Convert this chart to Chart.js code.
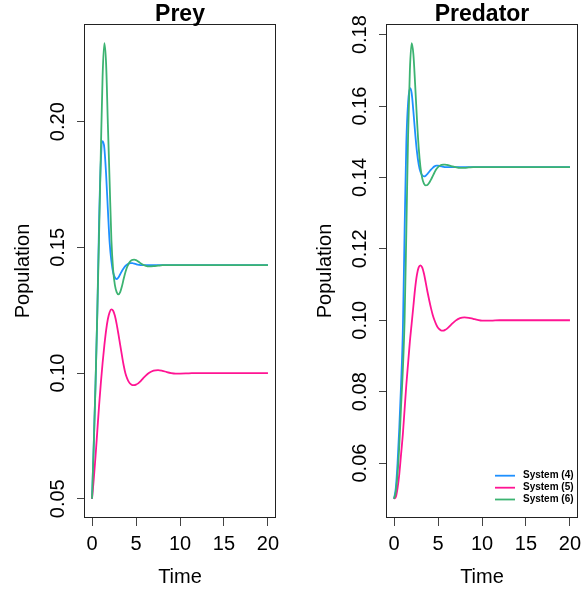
<!DOCTYPE html>
<html><head><meta charset="utf-8">
<script src="https://cdn.jsdelivr.net/npm/chart.js@4.4.1/dist/chart.umd.min.js"></script>
<style>
html,body{margin:0;padding:0;background:#fff;}
#wrap{position:relative;width:582px;height:592px;overflow:hidden;}
canvas{position:absolute;left:0;top:0;}
</style>
</head><body>
<div id="wrap"><canvas id="c1" width="582" height="592"></canvas><canvas id="c2" width="582" height="592"></canvas></div>
<script>
const times = [
  0,0.2,0.4,0.6,0.8,1,1.2,1.4,1.6,1.8,
  2,2.2,2.4,2.6,2.8,3,3.2,3.4,3.6,3.8,
  4,4.2,4.4,4.6,4.8,5,5.2,5.4,5.6,5.8,
  6,6.5,7,7.5,8,8.5,9,9.5,10,
  11,12,13,14,15,16,17,18,19,20];

const seriesNames = ["System (4)","System (5)","System (6)"];
const xTicks = [0,5,10,15,20];
const preyTicks = [0.05,0.10,0.15,0.20];
const predTicks = [0.06,0.08,0.10,0.12,0.14,0.16,0.18];

const preyS4 = [
  0.050,0.072,0.096,0.124,0.160,0.184,0.1922,0.1895,0.179,0.165,
  0.152,0.1445,0.1400,0.1380,0.1374,0.1380,0.1393,0.1406,0.1417,0.1426,
  0.1432,0.1436,0.1437,0.1437,0.1435,0.1433,0.1431,0.1430,0.1429,0.1429,
  0.1429,0.1429,0.1429,0.1429,0.1429,0.1429,0.1429,0.1429,0.1429,
  0.1429,0.1429,0.1429,0.1429,0.1429,0.1429,0.1429,0.1429,0.1429,0.1429];
const preyS5 = [
  0.050,0.058,0.067,0.077,0.087,0.096,0.104,0.111,0.117,0.1215,
  0.1242,0.1253,0.1248,0.1228,0.1195,0.1155,0.1112,0.1070,0.1030,0.0998,
  0.0978,0.0964,0.0956,0.0952,0.0952,0.0954,0.0958,0.0964,0.0971,0.0979,
  0.0986,0.1001,0.1010,0.1012,0.1009,0.1004,0.1000,0.0998,0.0998,
  0.0999,0.1000,0.1000,0.1000,0.1000,0.1000,0.1000,0.1000,0.1000,0.1000];
const preyS6 = [
  0.050,0.072,0.096,0.124,0.155,0.188,0.218,0.2312,0.223,0.199,
  0.176,0.153,0.141,0.1350,0.1322,0.1313,0.1322,0.1345,0.1375,0.1402,
  0.1423,0.1437,0.1446,0.1450,0.1451,0.1449,0.1445,0.1440,0.1435,0.1431,
  0.1428,0.1424,0.1425,0.1427,0.1429,0.1429,0.1429,0.1429,0.1429,
  0.1429,0.1429,0.1429,0.1429,0.1429,0.1429,0.1429,0.1429,0.1429,0.1429];

const predS4 = [
  0.050,0.053,0.060,0.070,0.082,0.097,0.125,0.150,0.161,0.1650,
  0.1637,0.1585,0.1525,0.1473,0.1437,0.1416,0.1406,0.1403,0.1405,0.1410,
  0.1416,0.1422,0.1427,0.1431,0.1433,0.1433,0.1432,0.1431,0.1430,0.1429,
  0.1429,0.1429,0.1429,0.1429,0.1429,0.1429,0.1429,0.1429,0.1429,
  0.1429,0.1429,0.1429,0.1429,0.1429,0.1429,0.1429,0.1429,0.1429,0.1429];
const predS5 = [
  0.050,0.0505,0.053,0.057,0.0625,0.068,0.075,0.082,0.088,0.094,
  0.0990,0.1040,0.1090,0.1127,0.1148,0.1154,0.1148,0.1131,0.1106,0.1080,
  0.1056,0.1034,0.1015,0.1000,0.0988,0.0979,0.0974,0.0971,0.0971,0.0973,
  0.0976,0.0988,0.0999,0.1006,0.1008,0.1007,0.1004,0.1001,0.0999,
  0.0999,0.1000,0.1000,0.1000,0.1000,0.1000,0.1000,0.1000,0.1000,0.1000];
const predS6 = [
  0.050,0.052,0.057,0.065,0.076,0.086,0.100,0.125,0.152,0.170,
  0.1776,0.1745,0.1660,0.1565,0.1485,0.1430,0.1398,0.1383,0.1378,0.1379,
  0.1385,0.1394,0.1404,0.1414,0.1423,0.1429,0.1433,0.1435,0.1436,0.1436,
  0.1435,0.1432,0.1429,0.1427,0.1427,0.1428,0.1429,0.1429,0.1429,
  0.1429,0.1429,0.1429,0.1429,0.1429,0.1429,0.1429,0.1429,0.1429,0.1429];

const colors = ['#1E90FF','#FF1493','#3CB371'];
const FONT = '"Liberation Sans", Arial, Helvetica, sans-serif';
const W = 582, H = 592;
const PLOT_TOP = 25, PLOT_BOTTOM = 517;

function rRange(arrs){
  let mn = Infinity, mx = -Infinity;
  arrs.forEach(a => a.forEach(v => { if (v < mn) mn = v; if (v > mx) mx = v; }));
  const d = (mx - mn) * 0.04;
  return [mn - d, mx + d];
}

function makeChart(id, title, yTicks, yDigits, series, boxLeft, boxRight, legend){
  const yr = rRange(series);
  const xr = [0 - 0.04*20, 20 + 0.04*20];
  const datasets = series.map((s, i) => ({
    label: seriesNames[i],
    data: s.map((v, k) => ({x: times[k], y: v})),
    borderColor: colors[i],
    backgroundColor: colors[i],
    borderWidth: 1.8,
    pointRadius: 0,
    fill: false,
    cubicInterpolationMode: 'monotone',
    order: [2,1,0][i]
  }));
  const deco = {
    id: 'deco'+id,
    afterDraw(chart){
      const ctx = chart.ctx, a = chart.chartArea;
      const xs = chart.scales.x, ys = chart.scales.y;
      ctx.save();
      // box
      ctx.strokeStyle = '#222';
      ctx.lineWidth = 1;
      ctx.strokeRect(Math.round(a.left)-0.5, Math.round(a.top)-0.5, Math.round(a.right-a.left)+1, Math.round(a.bottom-a.top)+1);
      ctx.fillStyle = '#000';
      // y tick labels
      ctx.font = '20px ' + FONT;
      ctx.textAlign = 'center';
      ctx.textBaseline = 'alphabetic';
      yTicks.forEach(v => {
        const y = ys.getPixelForValue(v);
        ctx.save();
        ctx.translate(a.left - 21.5, y);
        ctx.rotate(-Math.PI/2);
        ctx.fillText(v.toFixed(yDigits), 0, 0);
        ctx.restore();
      });
      // x tick labels
      xTicks.forEach(v => {
        ctx.fillText(String(v), xs.getPixelForValue(v), 549.5);
      });
      // axis titles
      const cx = (a.left + a.right)/2;
      ctx.fillText('Time', cx, 583);
      ctx.save();
      ctx.translate(a.left - 56.5, (a.top + a.bottom)/2);
      ctx.rotate(-Math.PI/2);
      ctx.fillText('Population', 0, 0);
      ctx.restore();
      // main title
      ctx.font = 'bold 23px ' + FONT;
      ctx.fillText(title, cx, 21);
      // legend
      if (legend){
        ctx.font = 'bold 10px ' + FONT;
        ctx.textAlign = 'left';
        ctx.textBaseline = 'middle';
        const ly = [475.7, 487.7, 499.5];
        seriesNames.forEach((n, i) => {
          ctx.strokeStyle = colors[i];
          ctx.lineWidth = 1.8;
          ctx.beginPath();
          ctx.moveTo(495, ly[i]);
          ctx.lineTo(515, ly[i]);
          ctx.stroke();
          ctx.fillStyle = '#000';
          ctx.fillText(n, 523, ly[i]);
        });
      }
      ctx.restore();
    }
  };
  return new Chart(document.getElementById(id), {
    type: 'line',
    data: { datasets },
    options: {
      responsive: false,
      animation: false,
      devicePixelRatio: 1,
      layout: { padding: { left: 0, right: W - boxRight, top: PLOT_TOP, bottom: 0 } },
      plugins: { legend: { display: false }, tooltip: { enabled: false }, title: { display: false } },
      scales: {
        x: {
          type: 'linear', min: xr[0], max: xr[1],
          afterFit(s){ s.height = H - PLOT_BOTTOM; },
          afterBuildTicks(s){ s.ticks = xTicks.map(v => ({value: v})); },
          ticks: { display: false },
          border: { display: false },
          grid: { drawOnChartArea: false, drawTicks: true, tickLength: 9, color: '#444', lineWidth: 1 }
        },
        y: {
          type: 'linear', min: yr[0], max: yr[1],
          afterFit(s){ s.width = boxLeft; },
          afterBuildTicks(s){ s.ticks = yTicks.map(v => ({value: v})); },
          ticks: { display: false },
          border: { display: false },
          grid: { drawOnChartArea: false, drawTicks: true, tickLength: 8, color: '#444', lineWidth: 1 }
        }
      }
    },
    plugins: [deco]
  });
}

makeChart('c1', 'Prey', preyTicks, 2, [preyS4, preyS5, preyS6], 85, 275, false);
makeChart('c2', 'Predator', predTicks, 2, [predS4, predS5, predS6], 387, 577, true);
</script>
</body></html>
